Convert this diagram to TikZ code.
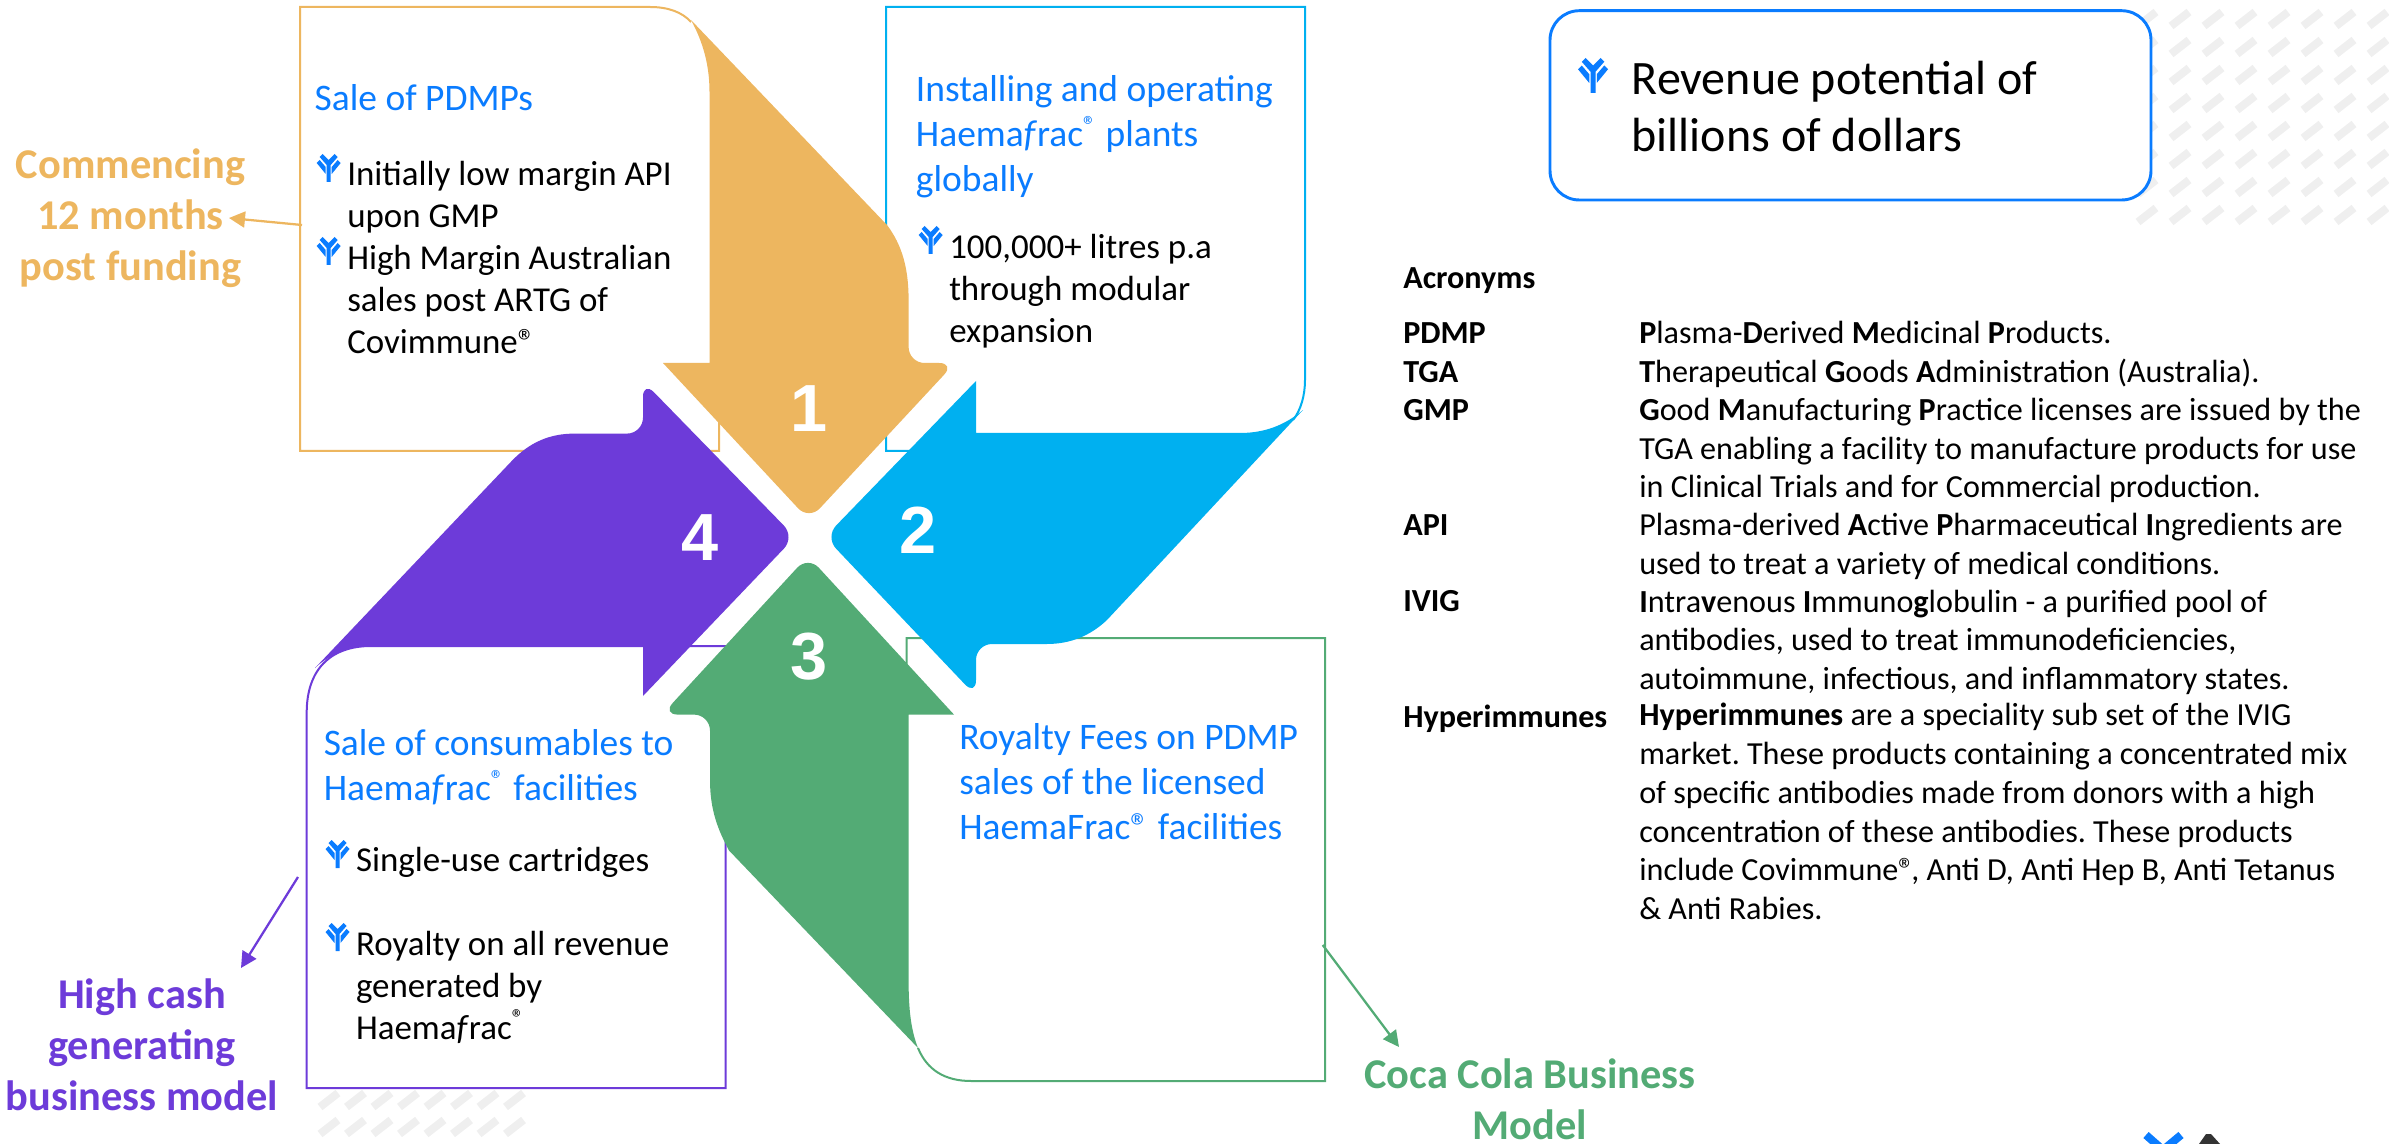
\documentclass[tikz,border=0pt]{standalone}
\usepackage{fontspec}
\setmainfont{Carlito}
\newfontfamily\numfont{Liberation Sans}
\usetikzlibrary{arrows.meta}
\frenchspacing
\definecolor{corange}{HTML}{EDB65F}
\definecolor{ccyan}{HTML}{00B0F0}
\definecolor{cblue}{HTML}{0A7CFF}
\definecolor{cpurple}{HTML}{6D3BD9}
\definecolor{cgreen}{HTML}{53AB75}
\definecolor{chatch}{HTML}{EFEFEF}
\newcommand{\Hf}{Haema\textit{f}rac\textsuperscript{®}}
\tikzset{
  x=0.75pt,y=-0.75pt,
  boxline/.style={line width=1.5pt,fill=white},
  headtxt/.style={anchor=base west,align=left,inner sep=0pt,text=cblue,font=\fontsize{28.1}{33.75}\selectfont},
  bodytxt/.style={anchor=base west,align=left,inner sep=0pt,text=black,font=\fontsize{26.2}{31.5}\selectfont},
  acrtxt/.style={anchor=base west,align=left,inner sep=0pt,text=black,font=\fontsize{24.1}{29.1}\selectfont},
  acrlab/.style={acrtxt,font=\fontsize{24.1}{29.1}\selectfont\bfseries},
  sidetxt/.style={anchor=base,align=center,inner sep=0pt,font=\fontsize{31.8}{38.25}\selectfont\bfseries},
  numtxt/.style={anchor=center,inner sep=0pt,text=white,font=\fontsize{50}{50}\numfont\bfseries},
  hatchdash/.style={line width=6pt,chatch},
  sidearrow/.style={line width=1.7pt,-{Triangle[length=12pt,width=12pt]}},
  pics/abicon/.style={code={
    \fill[cblue] (-9,-11)--(-6,-14)--(0,-8)--(6,-14)--(9,-11)--(2,-3)--(2,14)--(-2,14)--(-2,-3)--cycle;
    \fill[cblue] (-12,-5)--(-9,-8)--(-3,-1)--(-3,6)--cycle;
    \fill[cblue] (12,-5)--(9,-8)--(3,-1)--(3,6)--cycle;
  }}
}
\begin{document}
\begin{tikzpicture}
\useasboundingbox (0,0) rectangle (2389,1144);
\clip (0,0) rectangle (2389,1144);
% hatching
\foreach \yy in {19,47,...,215}{\foreach \xx in {2147,2180,...,2380}{
  \draw[hatchdash] (\xx-9,\yy+7) -- (\xx+9,\yy-7);}}
\foreach \yy in {1100,1127}{\foreach \xx in {329,355.5,...,520}{
  \draw[hatchdash] (\xx-9,\yy+7) -- (\xx+9,\yy-7);}}
% boxes
\draw[boxline,draw=corange] (719,400) -- (719,451) -- (300,451) -- (300,7) -- (650,7) .. controls (668,7) and (682,12) .. (691,22);
\draw[boxline,draw=ccyan] (1293,420) .. controls (1301,410) and (1305,395) .. (1305,380) -- (1305,7) -- (886,7) -- (886,451) -- (930,451);
\draw[boxline,draw=cpurple] (725.5,646) -- (371,646) .. controls (330,646) and (306.7,670) .. (306.7,712.7) -- (306.7,1088) -- (725.5,1088) -- cycle;
\draw[boxline,draw=cgreen] (906.5,720) -- (906.5,638) -- (1325,638) -- (1325,1081) -- (971,1081) .. controls (945,1081) and (927,1070) .. (918,1048);
% revenue box
\draw[line width=2.2pt,draw=cblue,fill=white,rounded corners=22pt] (1550,10.7) rectangle (2151,200);
% big arrows
\fill[corange] (691,20) .. controls (703,42) and (709.5,65) .. (709.5,92) -- (709.5,363) -- (663,363) [rounded corners=12pt] -- (809,520) -- (955,363) -- (908.6,363) [sharp corners] -- (908.6,300) .. controls (908.6,268) and (902,245) .. (887,225) -- cycle;
\fill[cgreen] (918,1048) .. controls (911,1030) and (908.6,1010) .. (908.6,980) -- (908.6,714.6) -- (954,714.6) [rounded corners=12pt] -- (808,556) -- (662,714.6) -- (710,714.6) [sharp corners] -- (710,780) .. controls (710,810) and (718,830) .. (729,850.5) -- cycle;
\fill[cpurple] (315,668) .. controls (330,654) and (350,646) .. (371,646) -- (643,646) -- (643,696) [rounded corners=12pt] -- (795,537) -- (643,381) -- (643,433.6) [sharp corners] -- (574.6,433.6) .. controls (550,433.6) and (530,442) .. (512,460.7) -- cycle;
\fill[ccyan] (1303,410) .. controls (1285,425) and (1265,433) .. (1240,433) -- (976,433) -- (976,381) [rounded corners=12pt] -- (825,537) -- (976,696) -- (976,644) [sharp corners] -- (1047,644) .. controls (1070,644) and (1090,636) .. (1107,620) -- cycle;
% numbers
\node[numtxt] (n1) at (809,409) {1};
\node[numtxt] (n2) at (918.5,530) {2};
\node[numtxt] (n3) at (809,657) {3};
\node[numtxt] (n4) at (700.5,538) {4};
% box texts
\node[headtxt] (h1) at (314.4,110.5) {Sale of PDMPs};
\pic[scale=1] at (328.7,168) {abicon};
\node[bodytxt] (b1a) at (347,228) {Initially low margin API\\upon GMP};
\pic[scale=1] at (328.7,251) {abicon};
\node[bodytxt] (b1b) at (347,354) {High Margin Australian\\sales post ARTG of\\Covimmune®};
\node[headtxt] (h2) at (915.7,192) {Installing and operating\\\Hf{} plants\\globally};
\pic[scale=1] at (930.7,240) {abicon};
\node[bodytxt] (b2) at (949,343) {100,000+ litres p.a\\through modular\\expansion};
\node[headtxt] (h3) at (959,839.5) {Royalty Fees on PDMP\\sales of the licensed\\HaemaFrac® facilities};
\node[headtxt] (h4) at (323.5,800.5) {Sale of consumables to\\\Hf{} facilities};
\pic[scale=1] at (337.5,854) {abicon};
\node[bodytxt] (b4a) at (355.8,871) {Single-use cartridges};
\pic[scale=1] at (337.5,937) {abicon};
\node[bodytxt] (b4b) at (355.8,1039) {Royalty on all revenue\\generated by\\\Hf};
% revenue text
\pic[scale=1.25] at (1593,75.5) {abicon};
\node[anchor=base west,align=left,inner sep=0pt,font=\fontsize{36}{42.75}\selectfont] (rev) at (1631.5,152) {Revenue potential of\\billions of dollars};
% acronyms
\node[acrlab] (ac0) at (1403,289) {Acronyms};
\node[acrlab] (ac1) at (1403,344) {PDMP};
\node[acrlab] (ac2) at (1403,382.3) {TGA};
\node[acrlab] (ac3) at (1403,420.3) {GMP};
\node[acrlab] (ac4) at (1403,536) {API};
\node[acrlab] (ac5) at (1403,612) {IVIG};
\node[acrlab] (ac6) at (1403,727) {Hyperimmunes};
\node[acrtxt] (d1) at (1639,344) {\textbf{P}lasma-\textbf{D}erived \textbf{M}edicinal \textbf{P}roducts.};
\node[acrtxt] (d2) at (1639,382.3) {\textbf{T}herapeutical \textbf{G}oods \textbf{A}dministration (Australia).};
\node[acrtxt] (d3) at (1639,498) {\textbf{G}ood \textbf{M}anufacturing \textbf{P}ractice licenses are issued by the\\TGA enabling a facility to manufacture products for use\\in Clinical Trials and for Commercial production.};
\node[acrtxt] (d4) at (1639,574.7) {Plasma-derived \textbf{A}ctive \textbf{P}harmaceutical \textbf{I}ngredients are\\used to treat a variety of medical conditions.};
\node[acrtxt] (d5) at (1639,689.7) {\textbf{I}ntra\textbf{v}enous \textbf{I}mmuno\textbf{g}lobulin - a purified pool of\\antibodies, used to treat immunodeficiencies,\\autoimmune, infectious, and inflammatory states.};
\node[acrtxt] (d6) at (1639,919.7) {\textbf{Hyperimmunes} are a speciality sub set of the IVIG\\market. These products containing a concentrated mix\\of specific antibodies made from donors with a high\\concentration of these antibodies. These products\\include Covimmune®\kern-.1em, Anti D, Anti Hep B, Anti Tetanus\\\& Anti Rabies.};
% side labels
\node[sidetxt,text=corange] (s1) at (130.5,281) {Commencing\\12 months\\post funding};
\node[sidetxt,text=cpurple] (s2) at (142,1110) {High cash\\generating\\business model};
\node[sidetxt,text=cgreen] (s3) at (1530,1139) {Coca Cola Business\\Model};
\coordinate (a1s) at (302,225); \coordinate (a1e) at (229,218);
\coordinate (a2s) at (298,877); \coordinate (a2e) at (241,968);
\coordinate (a3s) at (1322.7,945); \coordinate (a3e) at (1399,1047);
\draw[sidearrow,corange] (a1s) -- (a1e);
\draw[sidearrow,cpurple] (a2s) -- (a2e);
\draw[sidearrow,cgreen] (a3s) -- (a3e);
% logo fragment
\draw[line width=6pt,cblue] (2146,1135) -- (2163,1150) -- (2181,1135);
\fill[black!80] (2199,1144) -- (2206,1134) -- (2211,1134) -- (2220,1144) -- cycle;
\end{tikzpicture}
\end{document}
